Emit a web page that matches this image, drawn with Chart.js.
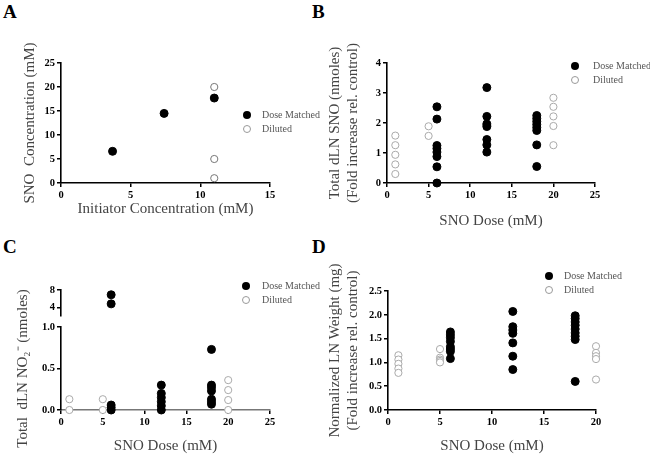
<!DOCTYPE html>
<html><head><meta charset="utf-8">
<script src="https://cdn.jsdelivr.net/npm/chart.js@4.4.1/dist/chart.umd.min.js"></script>
<style>
body{margin:0;background:#fff;width:650px;height:455px;position:relative;overflow:hidden;font-family:"Liberation Serif","Times New Roman",serif}
canvas{position:absolute}
.lbl{position:absolute;font-weight:bold;font-size:19px;line-height:1;color:#000}
.leg{position:absolute;font-size:10px;color:#555;line-height:10px;white-space:nowrap}
.dot{position:absolute;width:8px;height:8px;border-radius:50%;box-sizing:border-box}
.dm{background:#000}
.dl{background:#fff;border:1px solid #999}
</style></head><body>
<div class="lbl" style="left:3px;top:2px">A</div>
<div class="lbl" style="left:312px;top:2px">B</div>
<div class="lbl" style="left:3px;top:237px">C</div>
<div class="lbl" style="left:312px;top:237px">D</div>

<canvas id="cA" width="325" height="230" style="left:0;top:0"></canvas>
<canvas id="cB" width="325" height="230" style="left:325px;top:0"></canvas>
<canvas id="cC" width="325" height="230" style="left:0;top:225px"></canvas>
<canvas id="cD" width="325" height="230" style="left:325px;top:225px"></canvas>

<div id="legends"></div>
<script>
// ---------- Panel A ----------
const aDoseX = [3.7, 7.4, 11];
const aDoseY = [6.6, 14.5, 17.7];
const aDilX = [11, 11, 11];
const aDilY = [20, 5, 1];
const aXTicks = [0, 5, 10, 15];
const aYTicks = [0, 5, 10, 15, 20, 25];

// ---------- Panel B ----------
const bDoseLevels = [6, 12, 18];
const bDoseValues = [
  [2.54, 2.13, 1.25, 1.15, 1.03, 0.88, 0.54, 0.0],
  [3.18, 2.22, 1.97, 1.88, 1.45, 1.27, 1.03],
  [2.25, 2.15, 2.05, 1.95, 1.85, 1.75, 1.27, 0.55]
];
const bDilLevels = [1, 5, 20];
const bDilValues = [
  [1.58, 1.26, 0.94, 0.62, 0.30],
  [1.89, 1.57],
  [2.84, 2.54, 2.22, 1.90, 1.26]
];
const bXTicks = [0, 5, 10, 15, 20, 25];
const bYTicks = [0, 1, 2, 3, 4];

// ---------- Panel C ----------
const cDoseLevels = [6, 12, 18];
const cDoseValues = [
  [0.06, 0.03, 0.0],
  [0.30, 0.20, 0.15, 0.10, 0.05, 0.0],
  [0.73, 0.30, 0.27, 0.23, 0.13, 0.10, 0.07]
];
const cDoseHighX = [6, 6];
const cDoseHighY = [6.9, 4.8];
const cDilLevels = [1, 5, 20];
const cDilValues = [
  [0.13, 0.0],
  [0.13, 0.0],
  [0.36, 0.24, 0.12, 0.0]
];
const cXTicks = [0, 5, 10, 15, 20, 25];
const cYTicks = [0, 0.5, 1.0];
const cYHighTicks = [4, 8];

// ---------- Panel D ----------
const dDoseLevels = [6, 12, 18];
const dDoseValues = [
  [1.64, 1.58, 1.52, 1.44, 1.33, 1.28, 1.23, 1.08],
  [2.07, 1.75, 1.68, 1.61, 1.41, 1.13, 0.85],
  [1.98, 1.92, 1.85, 1.78, 1.70, 1.62, 1.55, 1.48, 0.60]
];
const dDilLevels = [1, 5, 20];
const dDilValues = [
  [1.15, 1.06, 0.97, 0.87, 0.78],
  [1.28, 1.10, 1.06, 1.03, 1.00],
  [1.34, 1.20, 1.13, 1.07, 0.64]
];
const dXTicks = [0, 5, 10, 15, 20];
const dYTicks = [0, 0.5, 1.0, 1.5, 2.0, 2.5];

const seriesNames = ['Dose Matched', 'Diluted'];

const family = '"Liberation Serif","Times New Roman",serif';

function zip(xs, ys) { return xs.map((x, i) => ({x: x, y: ys[i]})); }
function groups(levels, values) {
  const out = [];
  levels.forEach((lv, i) => values[i].forEach(v => out.push({x: lv, y: v})));
  return out;
}

function axis(o) {
  return {
    type: 'linear', min: o.min, max: o.max, position: o.position,
    stack: o.stack, stackWeight: o.stackWeight,
    afterBuildTicks: s => { s.ticks = o.ticks.map(v => ({value: v})); },
    afterFit: s => { if (s.isHorizontal()) s.height = o.size; else s.width = o.size; },
    ticks: {
      font: {family: family, size: 10.5, weight: 'bold'}, color: '#000', padding: 2,
      autoSkip: false, maxRotation: 0,
      callback: v => o.fmt ? o.fmt(v) : String(v)
    },
    grid: {display: true, drawOnChartArea: false, drawTicks: true, tickLength: 4, color: '#000', lineWidth: 1.5},
    border: {display: true, color: o.borderColor || '#000', width: 1.6},
    title: o.title ? {display: true, text: o.title, font: {family: family, size: 15}, color: '#444',
                      padding: o.titlePad || {top: 4, bottom: 4}} : {display: false}
  };
}

function dsDose(data, yAxisID) {
  return {label: seriesNames[0], data: data, yAxisID: yAxisID || 'y', pointRadius: 4,
          pointBackgroundColor: '#000', pointBorderColor: '#000', pointBorderWidth: 1, clip: false};
}
function dsDil(data, color) {
  return {label: seriesNames[1], data: data, pointRadius: 3.6,
          pointBackgroundColor: '#fff', pointBorderColor: color, pointBorderWidth: 1, clip: false};
}

function make(id, datasets, scales, padding) {
  return new Chart(document.getElementById(id), {
    type: 'scatter',
    data: {datasets: datasets},
    options: {
      responsive: false, animation: false, devicePixelRatio: 1,
      layout: {padding: padding},
      plugins: {legend: {display: false}, tooltip: {enabled: false}},
      scales: scales
    }
  });
}

const f1 = v => Number(v).toFixed(1);

// A
make('cA', [dsDose(zip(aDoseX, aDoseY)), dsDil(zip(aDilX, aDilY), '#777')], {
  x: axis({min: 0, max: 15, ticks: aXTicks, size: 36, title: 'Initiator Concentration (mM)', titlePad: {top: 2, bottom: 1}}),
  y: axis({min: 0, max: 25, ticks: aYTicks, size: 44, title: 'SNO  Concentration (mM)'})
}, {left: 17, right: 55, top: 63, bottom: 11});

// B
make('cB', [dsDose(groups(bDoseLevels, bDoseValues)), dsDil(groups(bDilLevels, bDilValues), '#aaa')], {
  x: axis({min: 0, max: 25, ticks: bXTicks, size: 47, title: 'SNO Dose (mM)', titlePad: {top: 2, bottom: 0}}),
  y: axis({min: 0, max: 4, ticks: bYTicks, size: 62, title: ['Total dLN SNO (nmoles)', '(Fold increase rel. control)'], titlePad: {top: 1, bottom: 1}})
}, {left: 0, right: 55, top: 63, bottom: 0});

// C
make('cC', [
  dsDose(groups(cDoseLevels, cDoseValues), 'y'),
  dsDose(zip(cDoseHighX, cDoseHighY), 'y2'),
  Object.assign(dsDil(groups(cDilLevels, cDilValues), '#aaa'), {yAxisID: 'y'})
], {
  x: axis({min: 0, max: 25, ticks: cXTicks, size: 45, title: 'SNO Dose (mM)', titlePad: {top: 2, bottom: 0}, borderColor: '#777'}),
  y: axis({min: 0, max: 1.0, ticks: cYTicks, size: 51, fmt: f1, position: 'left', stack: 'c', stackWeight: 83,
           title: 'Total  dLN NO\u2082\u207B (nmoles)'}),
  yg: {type: 'linear', position: 'left', stack: 'c', stackWeight: 11,
       afterFit: s => { s.width = 51; },
       ticks: {display: false}, grid: {display: false}, border: {display: false}, title: {display: false}},
  y2: axis({min: 2, max: 8, ticks: cYHighTicks, size: 51, position: 'left', stack: 'c', stackWeight: 26})
}, {left: 10, right: 55, top: 65, bottom: 0});

// D
make('cD', [dsDose(groups(dDoseLevels, dDoseValues)), dsDil(groups(dDilLevels, dDilValues), '#aaa')], {
  x: axis({min: 0, max: 20, ticks: dXTicks, size: 45, title: 'SNO Dose (mM)', titlePad: {top: 2, bottom: 0}}),
  y: axis({min: 0, max: 2.5, ticks: dYTicks, size: 63, fmt: f1, title: ['Normalized LN Weight (mg)', '(Fold increase rel. control)'], titlePad: {top: 1, bottom: 1}})
}, {left: 0, right: 54, top: 66, bottom: 0});

// HTML legends
const legendPos = [
  {dx: 243, tx: 262, y1: 115, y2: 129},
  {dx: 571, tx: 593, y1: 66, y2: 80},
  {dx: 242, tx: 262, y1: 286, y2: 300},
  {dx: 545, tx: 564, y1: 276, y2: 290}
];
const host = document.getElementById('legends');
legendPos.forEach(p => {
  [p.y1, p.y2].forEach((yy, i) => {
    const d = document.createElement('div');
    d.className = 'dot ' + (i === 0 ? 'dm' : 'dl');
    d.style.left = p.dx + 'px'; d.style.top = (yy - 4) + 'px';
    host.appendChild(d);
    const t = document.createElement('div');
    t.className = 'leg';
    t.textContent = seriesNames[i];
    t.style.left = p.tx + 'px'; t.style.top = (yy - 5) + 'px';
    host.appendChild(t);
  });
});
</script>
</body></html>
